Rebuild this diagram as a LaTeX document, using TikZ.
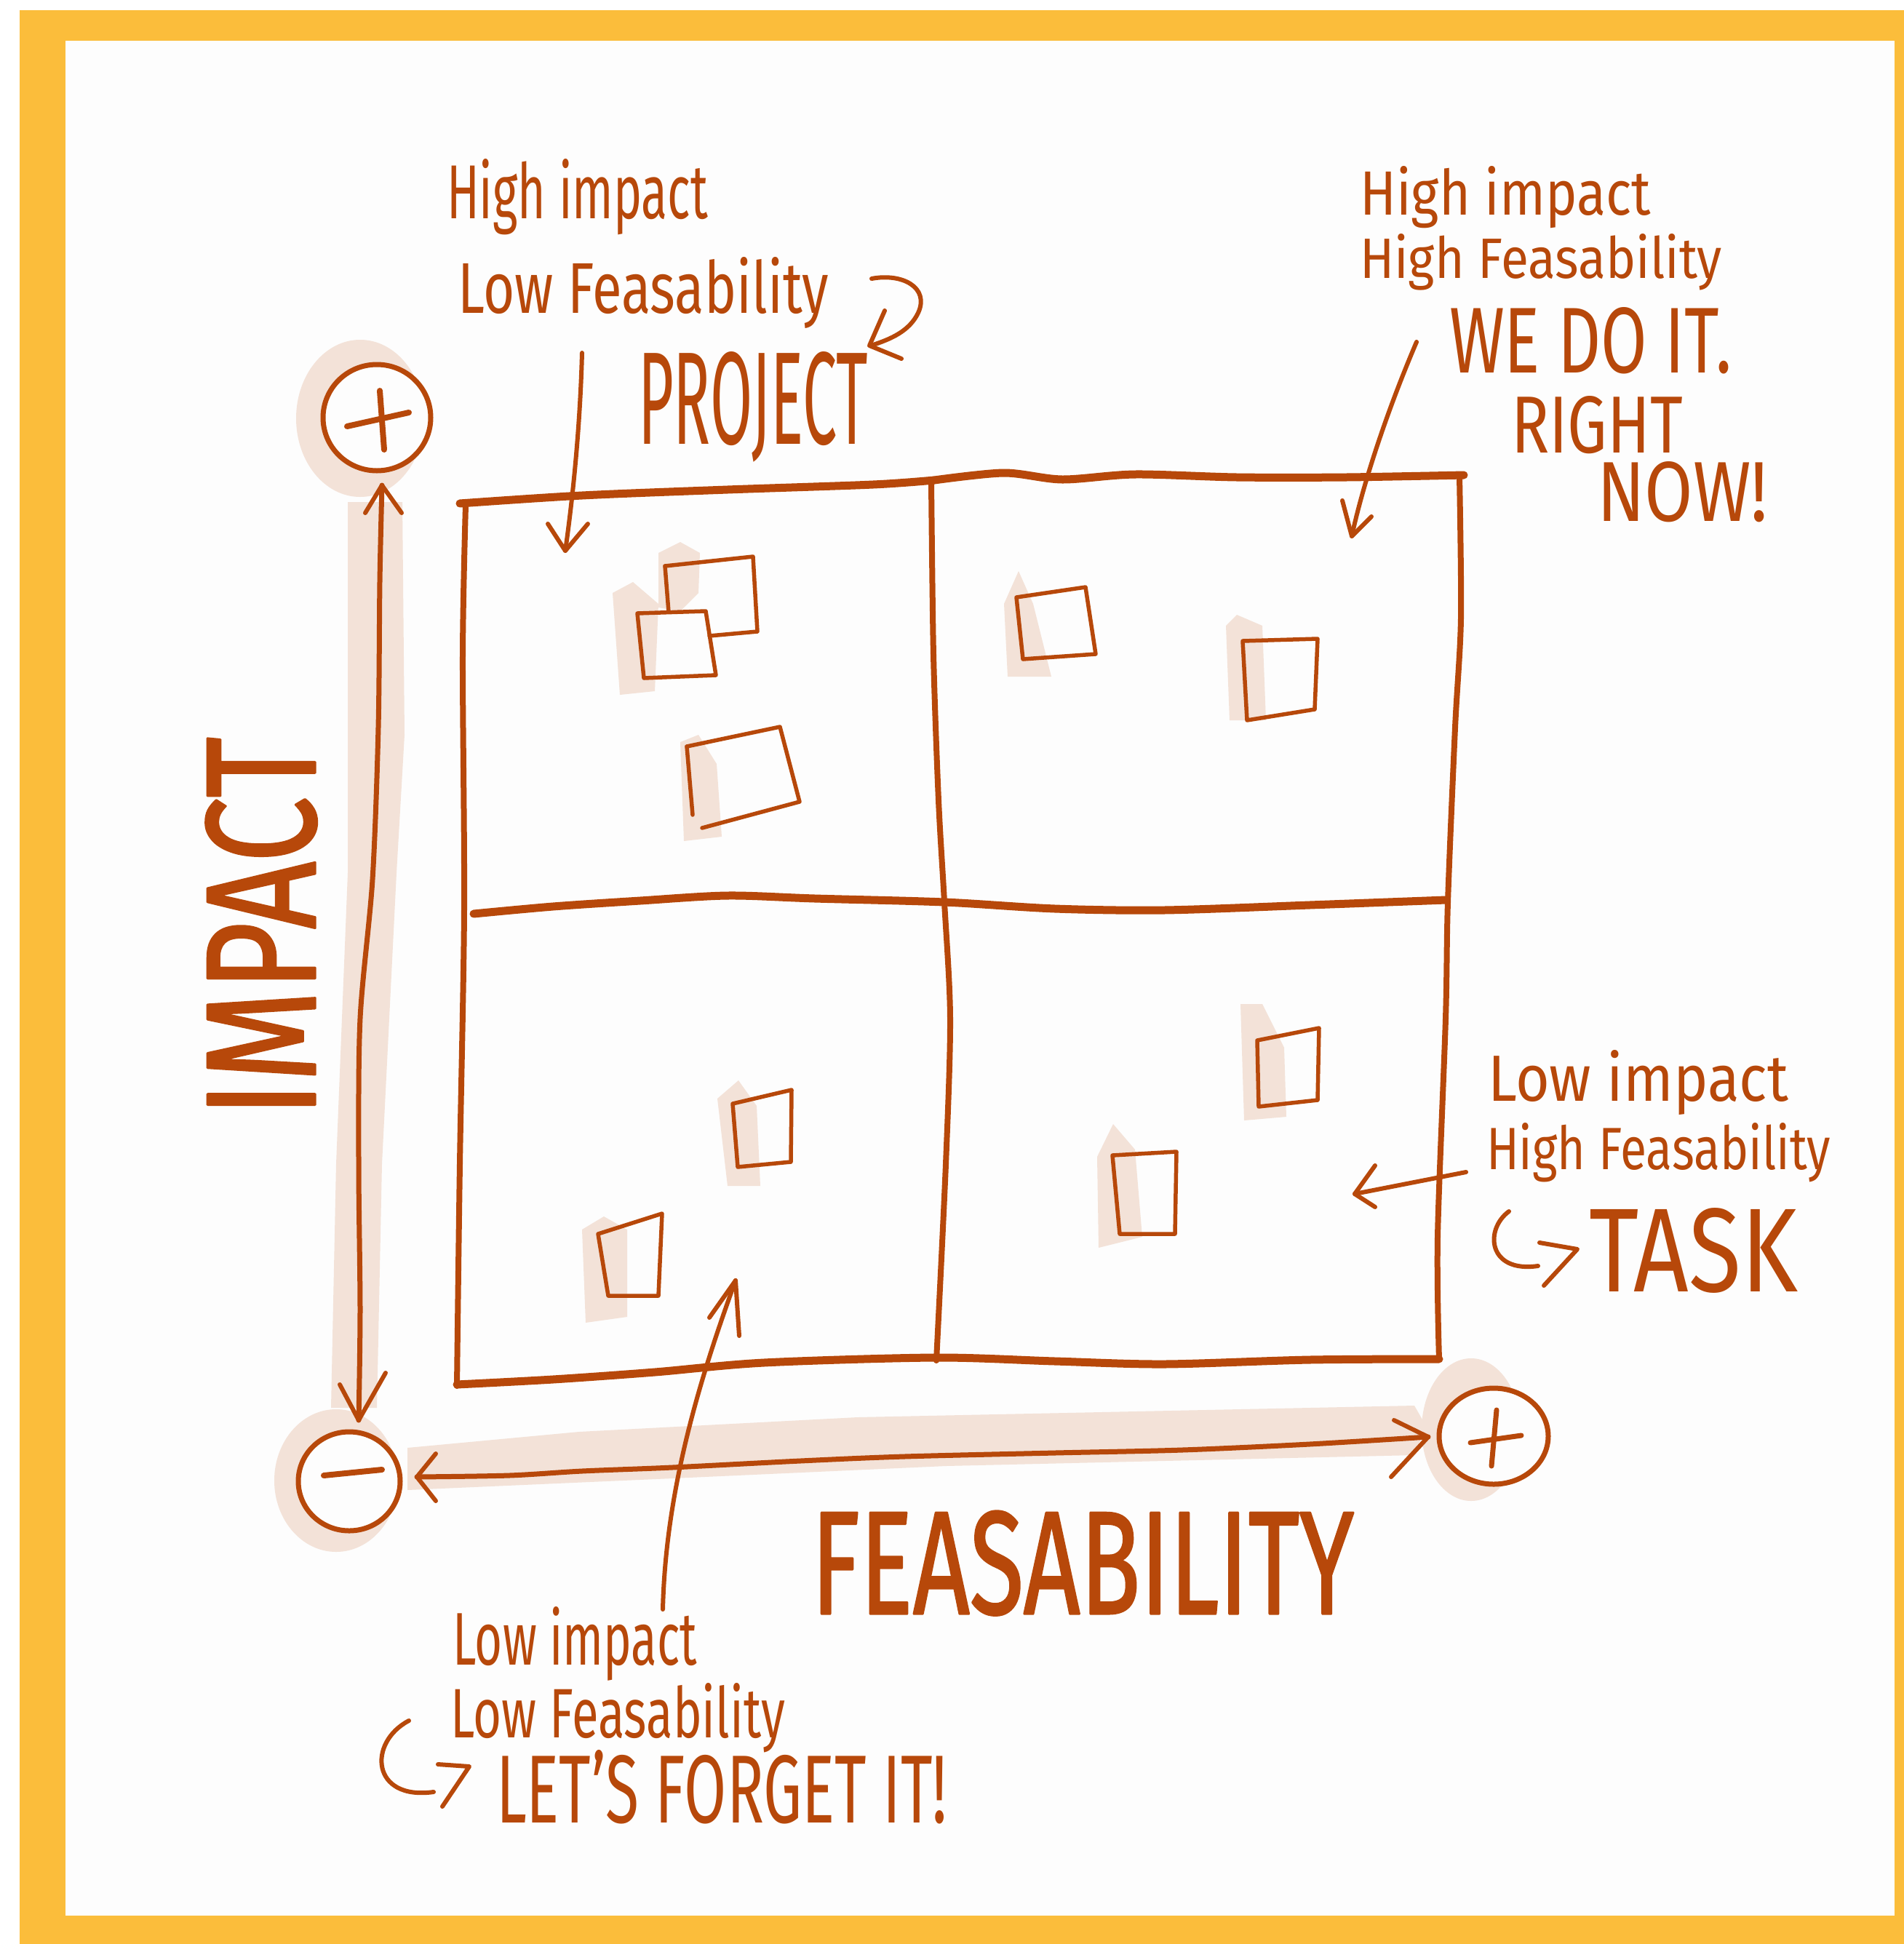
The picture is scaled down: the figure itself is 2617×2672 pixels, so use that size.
\documentclass[tikz,border=0pt]{standalone}
\usepackage{fontspec}
\setmainfont{Fira Sans}
\newfontfamily\thickhand{Fira Sans}[FakeBold=1.5]
\usepackage{graphicx}
\usetikzlibrary{shapes.geometric}
\definecolor{ink}{RGB}{183,72,10}
\definecolor{framecol}{RGB}{251,189,59}
\definecolor{wash}{RGB}{243,226,216}
\definecolor{paper}{RGB}{253,253,253}
% scale a label to an exact width and height (in pt)
\newcommand{\fitbox}[3]{\resizebox{#1pt}{#2pt}{#3}}

\begin{document}
\begin{tikzpicture}[x=1pt,y=-1pt,line cap=round,line join=round,
  pen/.style={draw=ink,line width=6},
  gridline/.style={draw=ink,line width=8},
  heavy/.style={draw=ink,line width=11},
  note/.style={draw=ink,line width=5.5},
  washfill/.style={fill=wash,draw=none},
  hand/.style={text=ink,inner sep=0,outer sep=0,anchor=base west},
  pole/.style={ellipse,draw=ink,line width=7,inner sep=0,fill=paper},
]
\useasboundingbox (0,0) rectangle (2617,2672);
\fill[white] (0,0) rectangle (2617,2672);
\fill[framecol] (27,14) rectangle (2617,2672);
\fill[paper] (90,56) rectangle (2604,2633);

% ---- washes behind the axes
\fill[wash] (495,575) ellipse [x radius=88,y radius=108];
\fill[wash] (478,690) -- (553,690) -- (556,1010) -- (545,1200) -- (525,1600)
  -- (518,1935) -- (455,1935) -- (462,1600) -- (478,1200) -- (478,1000) -- cycle;
\fill[wash] (462,2035) ellipse [x radius=85,y radius=98];
\fill[wash] (560,1990) -- (796,1968) -- (1179,1948) -- (1944,1932) -- (1960,1960)
  -- (1944,2000) -- (1300,2015) -- (924,2032) -- (560,2048) -- cycle;
\fill[wash] (2022,1965) ellipse [x radius=68,y radius=98];

% ---- washes behind the notes
\fill[washfill] (905,760) -- (935,745) -- (962,760) -- (960,815) -- (935,840) -- (905,835) -- cycle;
\fill[washfill] (842,815) -- (870,800) -- (905,830) -- (900,950) -- (852,955) -- cycle;
\fill[washfill] (935,1020) -- (960,1010) -- (985,1050) -- (992,1150) -- (940,1156) -- cycle;
\fill[washfill] (1380,830) -- (1400,785) -- (1420,830) -- (1445,930) -- (1385,930) -- cycle;
\fill[washfill] (1685,860) -- (1700,845) -- (1735,860) -- (1740,990) -- (1690,990) -- cycle;
\fill[washfill] (986,1510) -- (1015,1485) -- (1040,1520) -- (1045,1630) -- (1000,1630) -- cycle;
\fill[washfill] (800,1690) -- (830,1672) -- (862,1690) -- (862,1810) -- (805,1818) -- cycle;
\fill[washfill] (1705,1380) -- (1735,1380) -- (1765,1440) -- (1768,1535) -- (1710,1540) -- cycle;
\fill[washfill] (1508,1590) -- (1530,1545) -- (1560,1580) -- (1570,1700) -- (1510,1715) -- cycle;

% ---- the 2x2 grid
\draw[heavy] plot[smooth] coordinates {(632,692) (800,681) (1000,673) (1200,666) (1284,660)};
\draw[heavy] plot[smooth] coordinates {(1284,660) (1380,650) (1460,659) (1560,652) (1700,656) (1850,656) (2012,653)};
\draw[gridline] plot[smooth] coordinates {(640,695) (636,900) (638,1250) (632,1600) (628,1905)};
\draw[gridline] plot[smooth] coordinates {(1280,662) (1283,900) (1290,1100) (1298,1240) (1306,1400) (1300,1600) (1287,1870)};
\draw[gridline] plot[smooth] coordinates {(2006,655) (2008,850) (2000,1000) (1990,1240) (1987,1400) (1976,1700) (1978,1868)};
\draw[heavy] plot[smooth] coordinates {(651,1256) (760,1246) (880,1238) (1000,1231) (1120,1235) (1298,1240) (1450,1249) (1600,1251) (1800,1244) (1987,1237)};
\draw[heavy] plot[smooth] coordinates {(628,1903) (760,1896) (900,1886) (1050,1873) (1286,1866) (1450,1871) (1600,1875) (1800,1869) (1978,1868)};

% ---- notes
\draw[note] (914,778) -- (1035,765) -- (1041,868) -- (975,874);
\draw[note] (914,778) -- (919,841);
\draw[note] (876,843) -- (970,840) -- (984,928) -- (885,932) -- cycle;
\draw[note] (944,1026) -- (1072,999) -- (1099,1102) -- (965,1138);
\draw[note] (944,1026) -- (952,1120);
\draw[note] (1397,821) -- (1492,807) -- (1506,899) -- (1406,906) -- cycle;
\draw[note] (1708,881) -- (1811,878) -- (1807,975) -- (1714,990) -- cycle;
\draw[note] (1007,1517) -- (1088,1498) -- (1087,1597) -- (1014,1604) -- cycle;
\draw[note] (822,1696) -- (910,1668) -- (905,1781) -- (836,1781) -- cycle;
\draw[note] (1728,1430) -- (1813,1413) -- (1811,1512) -- (1730,1521) -- cycle;
\draw[note] (1529,1588) -- (1617,1583) -- (1615,1696) -- (1539,1696) -- cycle;

% ---- axis ends
\node[pole,minimum width=148pt,minimum height=146pt] (imphi) at (518,574) {};
\node[pole,minimum width=140pt,minimum height=136pt] (origin) at (480,2036) {};
\node[pole,minimum width=150pt,minimum height=132pt] (feashi) at (2053,1974) {};
\draw[ink,line width=8] (477,586) -- (562,567);
\draw[ink,line width=8] (522,537) -- (528,618);
\draw[ink,line width=8] (445,2028) -- (525,2020);
\draw[ink,line width=7] (2057,1938) -- (2050,2015);
\draw[ink,line width=7] (2021,1983) -- (2091,1973);

% ---- axes
\coordinate (vtop) at (525,667);
\coordinate (vbot) at (493,1952);
\coordinate (hleft) at (573,2030);
\coordinate (hright) at (1963,1975);
\draw[pen,line width=7] plot[smooth] coordinates {(vtop) (522,800) (520,1000) (512,1209) (495,1400) (493,1600) (495,1800) (vbot)};
\draw[pen] (502,705) -- (vtop) -- (552,705);
\draw[pen] (467,1903) -- (vbot) -- (530,1887);
\draw[pen,line width=7] plot[smooth] coordinates {(hleft) (700,2028) (800,2022) (924,2017) (1100,2008) (1243,2002) (1450,1997) (1625,1993) (1800,1985) (hright)};
\draw[pen] (599,1998) -- (hleft) -- (599,2063);
\draw[pen] (1916,1952) -- (hright) -- (1912,2030);

% ---- labels
\node[hand] (tlA) at (614,300) {\fitbox{359}{82}{High impact}};
\node[hand] (tlB) at (629,430) {\fitbox{510}{77}{Low Feasability}};
\node[hand] (project) at (877,610) {\fitbox{316}{127}{PROJECT}};
\node[hand] (trA) at (1869,295) {\fitbox{400}{67}{High impact}};
\node[hand] (trB) at (1869,382) {\fitbox{498}{61}{High Feasability}};
\node[hand] (trC) at (1992,512) {\fitbox{388}{90}{WE DO IT.}};
\node[hand] (trD) at (2077,622) {\fitbox{236}{78}{RIGHT}};
\node[hand] (trE) at (2195,716) {\fitbox{235}{82}{NOW!}};
\node[hand] (rA) at (2045,1513) {\fitbox{413}{70}{Low impact}};
\node[hand] (rB) at (2043,1607) {\fitbox{473}{64}{High Feasability}};
\node[hand] (task) at (2184,1775) {\fitbox{287}{115}{TASK}};
\node[hand] (bA) at (622,2288) {\fitbox{336}{80}{Low impact}};
\node[hand] (bB) at (619,2388) {\fitbox{460}{75}{Low Feasability}};
\node[hand] (bC) at (682,2505) {\fitbox{620}{100}{LET'S FORGET IT!}};
\node[hand,rotate=90] (impact) at (433,1535) {\fitbox{521}{150}{\thickhand IMPACT}};
\node[hand] (feas) at (1115,2218) {\fitbox{746}{141}{\thickhand FEASABILITY}};

% ---- pointers from the labels into the quadrants
\draw[pen] (1198,383) .. controls (1240,375) and (1278,395) .. (1262,430) .. controls (1250,455) and (1225,466) .. (1197,475);
\draw[pen] (1216,427) -- (1195,475) -- (1239,493);
\draw[pen] (800,485) .. controls (797,600) and (785,700) .. (777,757);
\draw[pen] (753,720) -- (777,757) -- (808,720);
\draw[pen] (1947,470) .. controls (1900,580) and (1870,680) .. (1858,737);
\draw[pen] (1845,688) -- (1858,737) -- (1885,710);
\draw[pen] (2015,1611) -- (1862,1641);
\draw[pen] (1890,1602) -- (1862,1641) -- (1890,1659);
\draw[pen] (911,2212) .. controls (915,2050) and (960,1900) .. (1011,1760);
\draw[pen] (975,1811) -- (1011,1760) -- (1016,1836);
\draw[pen] (2074,1665) .. controls (2040,1690) and (2045,1750) .. (2114,1740);
\draw[pen] (2116,1708) -- (2168,1717) -- (2122,1767);
\draw[pen] (562,2365) .. controls (505,2395) and (510,2475) .. (596,2463);
\draw[pen] (602,2425) -- (645,2428) -- (608,2483);
\end{tikzpicture}
\end{document}
